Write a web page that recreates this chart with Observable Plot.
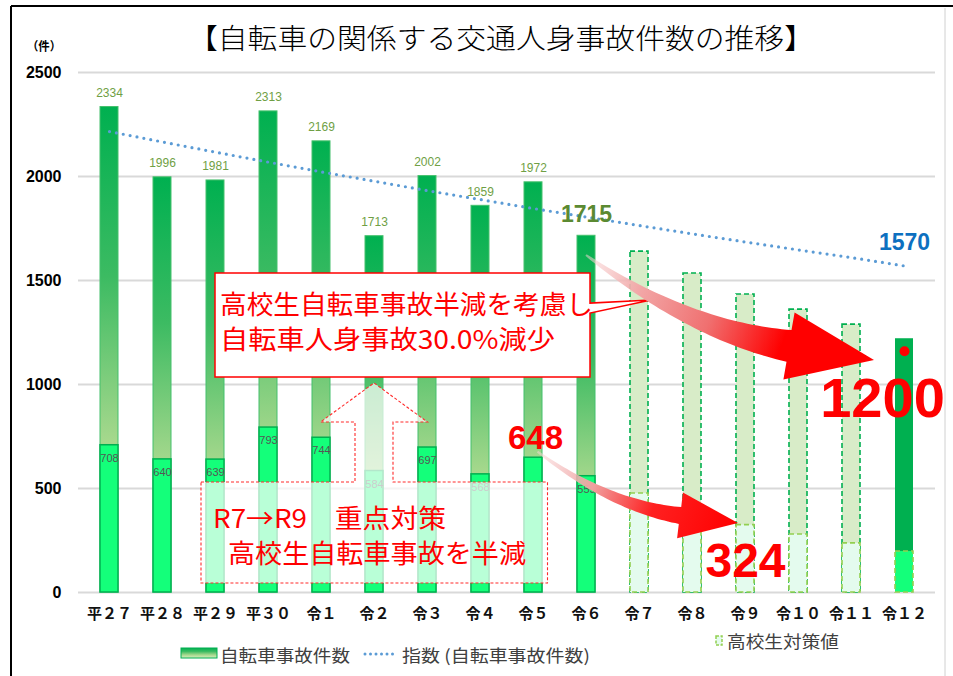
<!DOCTYPE html>
<html><head><meta charset="utf-8">
<script src="https://cdn.jsdelivr.net/npm/d3@7"></script>
<script src="https://cdn.jsdelivr.net/npm/@observablehq/plot@0.6"></script>
<style>html,body{margin:0;padding:0;background:#fff;overflow:hidden;} svg{display:block}</style>
</head><body><div id="chart"></div>
<script>
// ---- data ----
const years = ["平２７","平２８","平２９","平３０","令１","令２","令３","令４","令５","令６","令７","令８","令９","令１０","令１１","令１２"];
const totals = [2334,1996,1981,2313,2169,1713,2002,1859,1972,1715,1639,1534,1433,1360,1288,1220];
const highSchool = [708,640,639,793,744,584,697,568,648,559,476,400,324,279,236,197];
const trend = [2216,2166,2117,2069,2022,1977,1932,1889,1846,1805,1764,1724,1685,1647,1610,1570];
const yTicks = [0,500,1000,1500,2000,2500];
const r5Value = 648, r9Target = 324, goalLabel = 1200, r6Total = 1715, trendEnd = 1570, goalDot = 1160;
const title = "【自転車の関係する交通人身事故件数の推移】";
const unitLabel = "（件）";
const box1Lines = ["高校生自転車事故半減を考慮し", "自転車人身事故30.0%減少"];
const box2Lines = ["R7→R9　重点対策", "高校生自転車事故を半減"];
const legendNames = ["自転車事故件数", "指数 (自転車事故件数)", "高校生対策値"];

const rows = years.map((y, i) => ({year: y, total: totals[i], hs: highSchool[i], trend: trend[i], i}));
const past = rows.filter(d => d.i < 10);
const plan = rows.filter(d => d.i >= 10 && d.i < 15);
const goal = rows.filter(d => d.i === 15);
const numFont = "'Liberation Sans', Arial, sans-serif";
const jpFont = "'Noto Sans CJK JP', 'Noto Sans', sans-serif";

const plot = Plot.plot({
  width: 953, height: 676,
  marginLeft: 78, marginRight: 18, marginTop: 72, marginBottom: 84,
  style: {background: "white", fontFamily: jpFont, overflow: "visible"},
  x: {domain: years, paddingInner: 0.66, paddingOuter: 0.33, axis: null},
  y: {domain: [0, 2500], axis: null},
  marks: [
    Plot.ruleY(yTicks, {stroke: "#d9d9d9", strokeWidth: 2}),
    Plot.text(yTicks, {y: d => d, frameAnchor: "left", dx: -17, textAnchor: "end", text: d => String(d), fontSize: 16, fontWeight: "bold", fill: "#000", fontFamily: numFont}),
    Plot.text(years, {x: d => d, frameAnchor: "bottom", dy: 26, text: d => d, fontSize: 15, fontWeight: "bold", fill: "#111", fontFamily: jpFont}),
    Plot.barY(past, {x: "year", y: "total", fill: "url(#gUpper)", stroke: "#45c06c", strokeWidth: 1}),
    Plot.barY(past, {x: "year", y: "hs", fill: "#14ff7a", stroke: "#00b050", strokeWidth: 1.5}),
    Plot.barY(plan, {x: "year", y: "total", fill: "#d8ecc8", stroke: "#00b050", strokeWidth: 1.6, strokeDasharray: "5,3"}),
    Plot.barY(plan, {x: "year", y: "hs", fill: "#e4fbee", stroke: "#92d050", strokeWidth: 1.6, strokeDasharray: "5,3"}),
    Plot.barY(goal, {x: "year", y: "total", fill: "#00b050"}),
    Plot.barY(goal, {x: "year", y: "hs", fill: "#14ff7a", stroke: "#92d050", strokeWidth: 1.6, strokeDasharray: "5,3"}),
    Plot.text(past.filter(d => d.i < 9), {x: "year", y: "total", text: d => String(d.total), dy: -14, fontSize: 12, fill: "#6f9f45", fontFamily: numFont}),
    Plot.text(past.filter(d => d.i !== 8), {x: "year", y: "hs", text: d => String(d.hs), dy: 13, fontSize: 11, fill: "#555", fontFamily: numFont}),
    Plot.line(rows, {x: "year", y: "trend", stroke: "#5b9bd5", strokeWidth: 3.2, strokeDasharray: "0 7", strokeLinecap: "round"}),
    Plot.text([{year: "令６", v: r6Total}], {x: "year", y: "v", text: d => String(d.v), dy: -21, fontSize: 23, fontWeight: "bold", fill: "#5b8a32", fontFamily: numFont}),
    Plot.text([{year: "令１２", v: trendEnd}], {x: "year", y: "v", text: d => String(d.v), dy: -23, fontSize: 23, fontWeight: "bold", fill: "#0d70c0", fontFamily: numFont}),
    Plot.dot([{year: "令１２", v: goalDot}], {x: "year", y: "v", r: 5, fill: "#ff0000"}),
    Plot.text([{year: "令５", v: r5Value}], {x: "year", y: "v", text: d => String(d.v), dx: 2, dy: -19, fontSize: 33, fontWeight: "bold", fill: "#ff0000", fontFamily: numFont}),
    Plot.text([{year: "令９", v: r9Target}], {x: "year", y: "v", text: d => String(d.v), dy: 37, fontSize: 48, fontWeight: "bold", fill: "#ff0000", fontFamily: numFont}),
    Plot.text([{year: "令１２", v: goalLabel}], {x: "year", y: "v", text: d => String(d.v), dx: -22, dy: 56, fontSize: 56, fontWeight: "bold", fill: "#ff0000", fontFamily: numFont})
  ]
});
document.getElementById("chart").appendChild(plot);

const svg = d3.select(plot);
const xs = plot.scale("x"), ys = plot.scale("y");
const cx = k => xs.apply(k) + xs.bandwidth / 2;
const cy = v => ys.apply(v);

// defs
const defs = svg.insert("defs", ":first-child");
const gu = defs.append("linearGradient").attr("id", "gUpper").attr("x1", 0).attr("y1", 0).attr("x2", 0).attr("y2", 1);
[[0, "#00b050"], [0.35, "#3cbb62"], [0.7, "#a9d98e"], [1, "#d4eebf"]].forEach(([o, c]) => gu.append("stop").attr("offset", o).attr("stop-color", c));

function arrowGrad(id, S, E, stops) {
  const g = defs.append("linearGradient").attr("id", id).attr("gradientUnits", "userSpaceOnUse")
    .attr("x1", S[0]).attr("y1", S[1]).attr("x2", E[0]).attr("y2", E[1]);
  stops.forEach(([o, c, a]) => g.append("stop").attr("offset", o).attr("stop-color", c).attr("stop-opacity", a));
}
function curvedArrow(S, C, B, E, w0, w1, hh) {
  const N = 40, A = [], Q = [];
  for (let i = 0; i <= N; i++) {
    const t = i / N, u = 1 - t;
    const x = u*u*S[0] + 2*u*t*C[0] + t*t*B[0];
    const y = u*u*S[1] + 2*u*t*C[1] + t*t*B[1];
    let tx = 2*u*(C[0]-S[0]) + 2*t*(B[0]-C[0]);
    let ty = 2*u*(C[1]-S[1]) + 2*t*(B[1]-C[1]);
    const l = Math.hypot(tx, ty); tx /= l; ty /= l;
    const w = (w0 + (w1 - w0) * t) / 2;
    A.push([x - ty*w, y + tx*w]);
    Q.push([x + ty*w, y - tx*w]);
  }
  let dx = E[0]-B[0], dy = E[1]-B[1]; const l = Math.hypot(dx, dy); dx /= l; dy /= l;
  const h1 = [B[0] - dy*hh, B[1] + dx*hh], h2 = [B[0] + dy*hh, B[1] - dx*hh];
  const pts = [...A, h1, E, h2, ...Q.reverse()];
  return "M" + pts.map(p => p[0].toFixed(1) + "," + p[1].toFixed(1)).join("L") + "Z";
}
function addText(sel, x, y, str, size, fill, len, extra = {}) {
  const t = sel.append("text").attr("x", x).attr("y", y).attr("text-anchor", "start")
    .attr("dominant-baseline", "central").attr("font-family", jpFont).attr("font-size", size)
    .attr("fill", fill).text(str);
  if (len) t.attr("textLength", len).attr("lengthAdjust", "spacingAndGlyphs");
  for (const k in extra) t.attr(k, extra[k]);
  return t;
}

// annotation layer inserted just above the trend line
const annot = d3.create("svg:g");
const lineG = plot.querySelector('g[aria-label="line"]');
lineG.after(annot.node());

// box 2 (dashed, semi-transparent) with up arrow
{
  const L = cx("平２９") - 14, R = cx("令５") + 14.5, T = cy(529), Bt = cy(43);
  const ax = cx("令２"), hb = cy(817), tip = cy(1005);
  const p = `M${L},${T}H${ax-19}V${hb}H${ax-53.5}L${ax},${tip}L${ax+53.5},${hb}H${ax+19}V${T}H${R}V${Bt}H${L}Z`;
  annot.append("path").attr("d", p).attr("fill", "#fff").attr("fill-opacity", 0.7)
    .attr("stroke", "#ff2a2a").attr("stroke-width", 1.1).attr("stroke-dasharray", "3,2");
  addText(annot, L + 12, cy(362), box2Lines[0], 26, "#ff0000", 233);
  addText(annot, L + 27, cy(194), box2Lines[1], 26, "#ff0000", 298);
}
// box 1 (solid callout)
{
  const L = cx("平２９"), R = cx("令６") + 4, T = cy(1534), Bt = cy(1034);
  const p = `M${L},${T}H${R}V${cy(1389)}L${cx("令７")+12},${cy(1404)}L${R},${cy(1341)}V${Bt}H${L}Z`;
  annot.append("path").attr("d", p).attr("fill", "#fff").attr("stroke", "#ff0000").attr("stroke-width", 1.5);
  addText(annot, L + 5, cy(1390), box1Lines[0], 26, "#ff0000", 373);
  addText(annot, L + 5, cy(1223), box1Lines[1], 26, "#ff0000", 335);
}
// big curved arrows
{
  const S = [cx("令６"), cy(1620)], E = [cx("令１２") - 30, cy(1115)], B = [cx("令１２") - 115, cy(1183)];
  const C = [S[0] + 103, S[1] + 75];
  arrowGrad("a1", S, E, [[0, "#f8d6d6", 0.5], [0.2, "#f2a8a8", 1], [0.45, "#f07070", 1], [0.7, "#ff0000", 1], [1, "#ff0000", 1]]);
  annot.append("path").attr("d", curvedArrow(S, C, B, E, 2, 32, 34)).attr("fill", "url(#a1)");
}
{
  const S = [cx("令５") + 4.5, cy(675)], B = [cx("令９") - 65, cy(368)], E = [cx("令９") - 7, cy(332)];
  const C = [S[0] + 72, S[1] + 54];
  arrowGrad("a2", S, E, [[0, "#f8d6d6", 0.5], [0.3, "#f0a0a0", 1], [0.6, "#ff2020", 1], [1, "#ff0000", 1]]);
  annot.append("path").attr("d", curvedArrow(S, C, B, E, 2, 17, 23)).attr("fill", "url(#a2)");
}

// frame, title, unit, legend
svg.append("line").attr("x1", 11).attr("y1", 6).attr("x2", 953).attr("y2", 6).attr("stroke", "#000").attr("stroke-width", 2);
svg.append("line").attr("x1", 11).attr("y1", 6).attr("x2", 11).attr("y2", 676).attr("stroke", "#000").attr("stroke-width", 2);
svg.append("line").attr("x1", 945).attr("y1", 8).attr("x2", 945).attr("y2", 676).attr("stroke", "#d0d0d0").attr("stroke-width", 1);
addText(svg, 188, 37, title, 28, "#000", 626, {"font-weight": 300});
addText(svg, 27, 45, unitLabel, 12, "#000", 34, {"font-weight": "bold"});

const lg = svg.append("g");
lg.append("rect").attr("x", 181).attr("y", 648).attr("width", 36).attr("height", 10).attr("fill", "url(#gUpper)").attr("stroke", "#00b050").attr("stroke-width", 1);
addText(lg, 220, 654, legendNames[0], 17, "#404040", 130);
lg.append("line").attr("x1", 365).attr("y1", 654).attr("x2", 398).attr("y2", 654).attr("stroke", "#5b9bd5").attr("stroke-width", 3).attr("stroke-dasharray", "0 5.5").attr("stroke-linecap", "round");
addText(lg, 402, 654, legendNames[1], 17, "#404040", 188);
lg.append("rect").attr("x", 716).attr("y", 636).attr("width", 6).attr("height", 9).attr("fill", "#e4fbee").attr("stroke", "#92d050").attr("stroke-width", 1.5).attr("stroke-dasharray", "3,1.5");
addText(lg, 727, 640, legendNames[2], 17, "#404040", 112);
</script>
</body></html>
